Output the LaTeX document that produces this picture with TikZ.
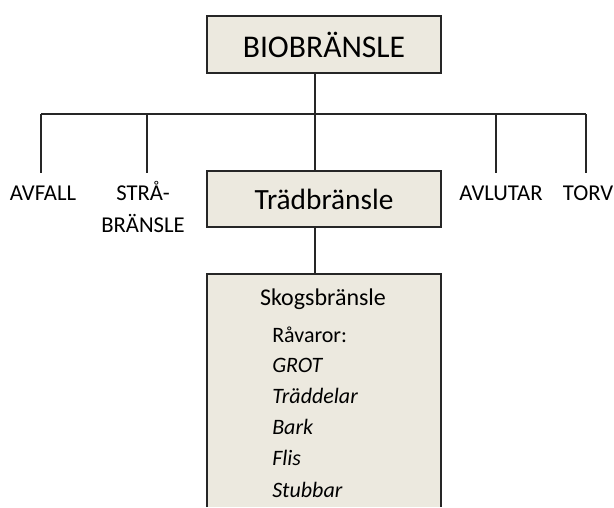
\documentclass[tikz,border=0pt]{standalone}
\usepackage{fontspec}
\setmainfont{Carlito}
\definecolor{boxfill}{HTML}{ECE9DF}
\definecolor{boxline}{HTML}{262626}
\tikzset{
  kasse/.style={draw=boxline,line width=1.5pt,fill=boxfill,inner sep=0pt},
  gren/.style={draw=boxline,line width=1.1pt},
  etikett/.style={anchor=base,inner sep=0pt,font=\fontsize{17}{20}\selectfont},
  post/.style={anchor=base west,inner sep=0pt,font=\fontsize{16.5}{19}\selectfont\itshape}
}

\begin{document}
\begin{tikzpicture}[x=0.75pt,y=-0.75pt]
  \useasboundingbox (0,0) rectangle (614,507);
  % boxes
  \node[kasse,minimum width=175.5pt,minimum height=42.75pt,
        font=\fontsize{23.7}{27}\selectfont] (bio) at (324,44.5) {BIOBRÄNSLE};
  \node[kasse,minimum width=175.5pt,minimum height=42pt,
        font=\fontsize{22}{26}\selectfont] (trad) at (324,199) {Trädbränsle};
  \fill[boxfill] (207,274) rectangle (441,507);
  \draw[boxline,line width=1.5pt] (207,507)--(207,274)--(441,274)--(441,507);
  \coordinate (skog) at (315,274);
  % side branches
  \coordinate (vbus) at (41,114);
  \coordinate (hbus) at (586,114);
  \coordinate (mbus) at (315,114);
  \node[etikett] (avfall) at (43,200) {AVFALL};
  \node[etikett] (stra) at (143,200) {STRÅ-};
  \node[etikett] (stra2) at (143,232) {BRÄNSLE};
  \node[etikett] (avlutar) at (501,200) {AVLUTAR};
  \node[etikett] (torv) at (588,200) {TORV};
  \draw[gren] (vbus)--(hbus);
  \draw[gren] (vbus)--(41,173);
  \draw[gren] (147,114)--(147,173);
  \draw[gren] (496,114)--(496,173);
  \draw[gren] (hbus)--(586,173);
  \draw[gren] (bio.south-|mbus)--(trad.north-|mbus);
  \draw[gren] (trad.south-|skog)--(skog);
  % skogsbränsle
  \node[etikett,font=\fontsize{18}{21}\selectfont] (skogtitel) at (323,305) {Skogsbränsle};
  \node[post,font=\fontsize{16.5}{19}\selectfont] (ravaror) at (272,342) {Råvaror:};
  \node[post] (grot) at (272,372) {GROT};
  \node[post] (traddelar) at (272,403) {Träddelar};
  \node[post] (bark) at (272,434) {Bark};
  \node[post] (flis) at (272,465) {Flis};
  \node[post] (stubbar) at (272,497) {Stubbar};
\end{tikzpicture}
\end{document}
